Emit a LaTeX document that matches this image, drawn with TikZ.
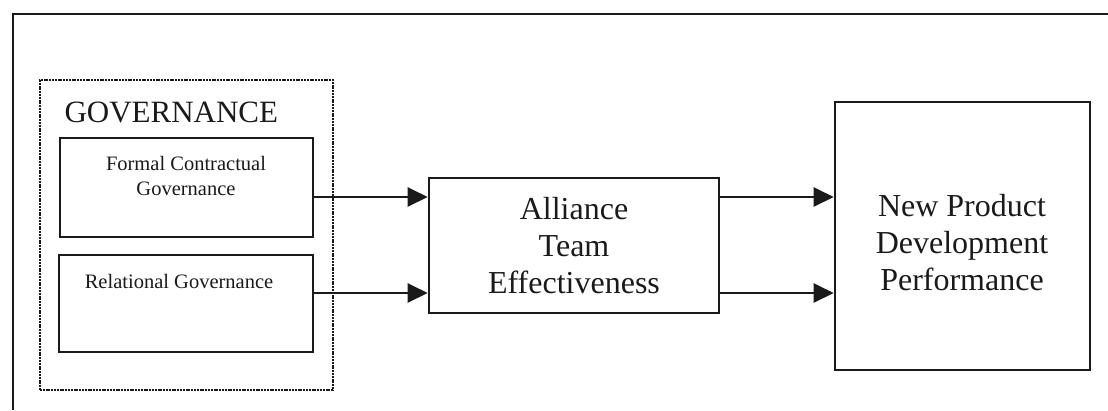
\documentclass[tikz,border=0pt]{standalone}
\usepackage{fontspec}
\setmainfont{Liberation Serif}
\usetikzlibrary{arrows.meta}
\definecolor{ink}{HTML}{1A1A1A}
\begin{document}
\begin{tikzpicture}[x=1pt,y=-1pt,
  frame/.style={draw=ink, line width=2.2pt},
  group/.style={draw=ink, line width=1.6pt, dash pattern=on 2pt off 0.8pt, inner sep=0pt},
  box/.style={draw=ink, line width=2.6pt, inner sep=0pt},
  bigtext/.style={font=\fontsize{32}{37}\selectfont, text=ink, align=center},
  smalltext/.style={font=\fontsize{20.5}{25}\selectfont, text=ink, align=center},
  link/.style={draw=ink, line width=2.4pt, -{Triangle[length=20pt,width=19pt]}}]
\useasboundingbox (0,0) rectangle (1108,410);
% outer frame (top and left edges)
\draw[frame] (1108,14) -- (13,14) -- (13,410);
% governance group
\node[group, minimum width=293pt, minimum height=310pt] (gov) at (186.5,235) {};
\node[font=\fontsize{31}{36}\selectfont, text=ink, anchor=base west] (govlabel) at (61,122) {GOVERNANCE};
\node[box, minimum width=253pt, minimum height=99pt] (formal) at (186.5,187.5) {};
\node[smalltext] (formaltext) at (186,176) {Formal Contractual\\Governance};
\node[box, minimum width=254pt, minimum height=97pt] (relational) at (186,303.5) {};
\node[smalltext] (relationaltext) at (179,281) {Relational Governance};
% mediator and outcome
\node[box, minimum width=290pt, minimum height=135pt, bigtext] (alliance) at (574,245.5) {Alliance\\Team\\Effectiveness};
\node[box, minimum width=255pt, minimum height=268pt] (npd) at (962.5,236) {};
\node[bigtext] (npdtext) at (962,243) {New Product\\Development\\Performance};
% connector heights
\coordinate (r1) at (0,197);
\coordinate (r2) at (0,293);
\draw[link] (formal.east |- r1) -- (alliance.west |- r1);
\draw[link] (relational.east |- r2) -- (alliance.west |- r2);
\draw[link] (alliance.east |- r1) -- (npd.west |- r1);
\draw[link] (alliance.east |- r2) -- (npd.west |- r2);
\end{tikzpicture}
\end{document}
